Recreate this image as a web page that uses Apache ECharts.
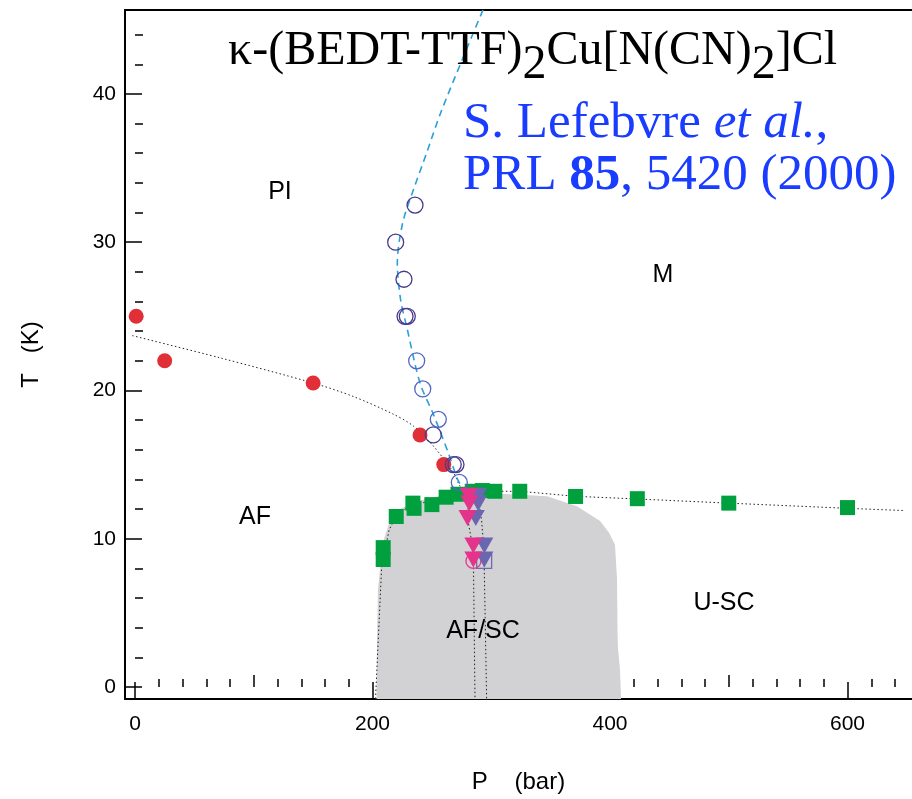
<!DOCTYPE html>
<html>
<head>
<meta charset="utf-8">
<script src="https://cdn.jsdelivr.net/npm/echarts@6/dist/echarts.min.js"></script>
<style>
  html, body { margin: 0; padding: 0; background: #ffffff; }
  #chart { width: 912px; height: 799px; }
</style>
</head>
<body>
<div id="chart"></div>
<script>
// ---- Phase diagram data: pressure P (bar), temperature T (K) ----

// Insulator -> antiferromagnet transition (filled red circles)
const afP = [1, 25, 150, 240, 260];
const afT = [25, 22, 20.5, 17, 15];

// Mott (insulator -> metal) transition, two data sets (open circles)
const mottAP = [235.8, 219.5, 226.5, 227.4, 229.3, 251.2, 268, 270.3];
const mottAT = [32.5, 30.0, 27.5, 25.0, 25.0, 17.0, 15.0, 15.0];
const mottBP = [237.2, 242.3, 255.4, 273.1];
const mottBT = [22.0, 20.1, 18.05, 13.8];

// Superconducting onset (filled green squares)
const scP = [209, 209, 220, 234, 235, 250, 262, 272, 284, 292.5, 303, 324, 371, 423, 500, 600];
const scT = [9.4, 8.6, 11.5, 12.4, 12.05, 12.3, 12.8, 13.0, 13.2, 13.25, 13.2, 13.2, 12.85, 12.7, 12.4, 12.1];

// Coexistence boundaries (down triangles)
const triAP = [281, 281.5, 280, 284.9, 284.9];
const triAT = [12.9, 12.4, 11.4, 9.55, 8.6];
const triBP = [289, 289, 287, 294.2, 294.2];
const triBT = [12.9, 12.4, 11.4, 9.55, 8.6];

// Open markers at the lowest coexistence points
const lowCircleP = [285];
const lowCircleT = [8.5];
const lowSquareP = [294];
const lowSquareT = [8.5];

// Guide lines
const afLineP = [-2.3, 71.6, 150, 183.6, 217.5, 234.4, 251.2, 268, 273.7, 280];
const afLineT = [23.7, 22.2, 20.5, 19.6, 18.4, 17.6, 16.25, 14.5, 13.55, 13.1];
const mottLineP = [293, 276.5, 256.8, 245.5, 234.3, 225.4, 220.9, 223.7, 228.8, 240, 251.2, 263.8, 272.3, 280];
const mottLineT = [45.66, 42.5, 38.6, 36.0, 33.5, 31.3, 28.6, 26.1, 24.3, 20.5, 18.4, 15.8, 13.9, 13.0];
const scLineP = [202.5, 203, 207.7, 214, 220, 227.4, 241.4, 262, 282, 324, 371, 423, 500, 600, 648];
const scLineT = [-0.81, 0, 8.1, 10.6, 11.5, 12.0, 12.4, 12.85, 13.2, 13.2, 12.86, 12.68, 12.4, 12.05, 11.9];
const coexALineP = [281, 280, 284, 285, 286.3];
const coexALineT = [12.6, 11.4, 9.6, 8.5, -0.81];
const coexBLineP = [289, 291.9, 293.5, 294, 296.1];
const coexBLineT = [12.8, 11.2, 9.6, 8.5, -0.81];

// Superconducting region outline (grey)
const scRegionP = [203.4, 203.8, 204.6, 207.2, 209.7, 214.7, 223.2, 235.8, 256.8, 290.5, 315.8, 347, 372.2, 385.7, 391.6, 399.2, 404.2, 405.9, 406.3, 406.7, 408.4, 409.3];
const scRegionT = [-0.81, 3.2, 6.6, 8.6, 10, 11.2, 12, 12.5, 12.9, 13.1, 13.0, 12.86, 12.19, 11.5, 11.2, 10.4, 9.6, 7.3, 3.9, 2.6, 1.2, -0.81];

// Axis ticks
const xMajorTicks = [0, 200, 400, 600];
const xMidTicks = [100, 300, 500];
const xMinorTicks = [20, 40, 60, 80, 120, 140, 160, 180, 220, 240, 260, 280, 320, 340, 360, 380, 420, 440, 460, 480, 520, 540, 560, 580, 620, 640];
const yMajorTicks = [0, 10, 20, 30, 40];
const yMinorTicks = [2, 4, 6, 8, 12, 14, 16, 18, 22, 24, 26, 28, 32, 34, 36, 38, 42, 44];

const P_MIN = -8.42, P_MAX = 654.3;
const T_MIN = -0.81, T_MAX = 45.66;

const zip = (a, b) => a.map((v, i) => [v, b[i]]);

const SANS = 'Liberation Sans, Arial, Helvetica, sans-serif';
const SERIF = 'Liberation Serif, Times New Roman, serif';

function xAxisFor(ticks, len, extra) {
  return Object.assign({
    type: 'value', gridIndex: 0, position: 'bottom', min: P_MIN, max: P_MAX,
    axisLine: { show: false },
    axisTick: { show: true, inside: true, length: len, customValues: ticks, lineStyle: { color: '#000', width: 1.5 } },
    axisLabel: { show: false },
    splitLine: { show: false }
  }, extra || {});
}

function yAxisFor(ticks, len, extra) {
  return Object.assign({
    type: 'value', gridIndex: 0, position: 'left', min: T_MIN, max: T_MAX,
    axisLine: { show: false },
    axisTick: { show: true, inside: true, length: len, customValues: ticks, lineStyle: { color: '#000', width: 1.5 } },
    axisLabel: { show: false },
    splitLine: { show: false }
  }, extra || {});
}

const dotted = { color: '#222', width: 1, type: [1.5, 2.5] };

function regionLabel(text, x, y) {
  return { type: 'text', x: x, y: y, z: 100,
    style: { text: text, fontFamily: SANS, fontSize: 25, fill: '#000', align: 'center', verticalAlign: 'middle' } };
}

const option = {
  animation: false,
  backgroundColor: '#ffffff',
  grid: { left: 125, top: 10, width: 787, height: 690 },
  xAxis: [
    xAxisFor(xMajorTicks, 17, {
      axisLine: { show: true, onZero: false, lineStyle: { color: '#000', width: 2 } },
      axisLabel: { show: true, customValues: xMajorTicks, color: '#000', fontSize: 21, fontFamily: SANS, margin: 15 },
      name: 'P    (bar)', nameLocation: 'middle', nameGap: 71,
      nameTextStyle: { color: '#000', fontSize: 24, fontFamily: SANS }
    }),
    xAxisFor(xMidTicks, 12),
    xAxisFor(xMinorTicks, 8),
    {
      type: 'value', gridIndex: 0, position: 'top', min: P_MIN, max: P_MAX,
      axisLine: { show: true, onZero: false, lineStyle: { color: '#000', width: 2 } },
      axisTick: { show: false }, axisLabel: { show: false }, splitLine: { show: false }
    }
  ],
  yAxis: [
    yAxisFor(yMajorTicks, 17, {
      axisLine: { show: true, onZero: false, lineStyle: { color: '#000', width: 2 } },
      axisLabel: { show: true, customValues: yMajorTicks, color: '#000', fontSize: 21, fontFamily: SANS, margin: 9 },
      name: 'T   (K)', nameLocation: 'middle', nameRotate: 90, nameGap: 82,
      nameTextStyle: { color: '#000', fontSize: 24, fontFamily: SANS }
    }),
    yAxisFor(yMinorTicks, 8)
  ],
  series: [
    {
      type: 'custom', name: 'SC region', coordinateSystem: 'cartesian2d', clip: true, silent: true, z: 1,
      data: [[0, 0]],
      renderItem: (params, api) => ({
        type: 'polygon',
        shape: { points: scRegionP.map((p, i) => api.coord([p, scRegionT[i]])) },
        style: { fill: '#d2d2d4' }
      })
    },
    { type: 'line', data: zip(afLineP, afLineT), symbol: 'none', smooth: 0.3, lineStyle: dotted, z: 2 },
    { type: 'line', data: zip(scLineP, scLineT), symbol: 'none', lineStyle: dotted, z: 2 },
    { type: 'line', data: zip(coexALineP, coexALineT), symbol: 'none', lineStyle: dotted, z: 2 },
    { type: 'line', data: zip(coexBLineP, coexBLineT), symbol: 'none', lineStyle: dotted, z: 2 },
    { type: 'line', data: zip(mottLineP, mottLineT), symbol: 'none', smooth: 0.3,
      lineStyle: { color: '#2a9fd8', width: 1.6, type: [7, 5] }, z: 3 },
    { type: 'scatter', data: zip(scP, scT), symbol: 'rect', symbolSize: 15,
      itemStyle: { color: '#00a03e', opacity: 1 }, z: 4 },
    { type: 'scatter', data: zip(afP, afT), symbol: 'circle', symbolSize: 15,
      itemStyle: { color: '#e12f37', opacity: 1 }, z: 4 },
    { type: 'scatter', data: zip(mottAP, mottAT), symbol: 'circle', symbolSize: 16,
      itemStyle: { color: 'rgba(0,0,0,0)', borderColor: '#4a3a8f', borderWidth: 1.3, opacity: 1 }, z: 5 },
    { type: 'scatter', data: zip(mottBP, mottBT), symbol: 'circle', symbolSize: 16,
      itemStyle: { color: 'rgba(0,0,0,0)', borderColor: '#5066c8', borderWidth: 1.3, opacity: 1 }, z: 5 },
    { type: 'scatter', data: zip(lowCircleP, lowCircleT), symbol: 'circle', symbolSize: 15,
      itemStyle: { color: 'rgba(0,0,0,0)', borderColor: '#e3378b', borderWidth: 1.3, opacity: 1 }, z: 5 },
    { type: 'scatter', data: zip(lowSquareP, lowSquareT), symbol: 'rect', symbolSize: 15,
      itemStyle: { color: 'rgba(0,0,0,0)', borderColor: '#7069b4', borderWidth: 1.3, opacity: 1 }, z: 5 },
    { type: 'scatter', data: zip(triBP, triBT), symbol: 'triangle', symbolRotate: 180, symbolSize: [18, 16],
      itemStyle: { color: '#6a66b0', opacity: 1 }, z: 6 },
    { type: 'scatter', data: zip(triAP, triAT), symbol: 'triangle', symbolRotate: 180, symbolSize: [18, 16],
      itemStyle: { color: '#e4338a', opacity: 1 }, z: 7 }
  ],
  graphic: [
    {
      type: 'text', left: 228, top: 27, z: 100,
      style: {
        text: '{t|κ-(BEDT-TTF)}{s|2}{t|Cu[N(CN)}{s|2}{t|]Cl}',
        rich: {
          t: { fontFamily: SERIF, fontSize: 48, fill: '#000', lineHeight: 50, verticalAlign: 'top' },
          s: { fontFamily: SERIF, fontSize: 48, fill: '#000', lineHeight: 50, verticalAlign: 'top', padding: [14, 0, 0, 0] }
        }
      }
    },
    {
      type: 'text', left: 463, top: 98, z: 100,
      style: {
        text: '{n|S. Lefebvre }{i|et al.}{n|,}\n{n|PRL }{b|85}{n|, 5420 (2000)}',
        rich: {
          n: { fontFamily: SERIF, fontSize: 51, fill: '#1a3cff', lineHeight: 52 },
          i: { fontFamily: SERIF, fontSize: 51, fill: '#1a3cff', lineHeight: 52, fontStyle: 'italic' },
          b: { fontFamily: SERIF, fontSize: 51, fill: '#1a3cff', lineHeight: 52, fontWeight: 'bold' }
        }
      }
    },
    regionLabel('PI', 280, 192),
    regionLabel('M', 663, 275),
    regionLabel('AF', 255, 517),
    regionLabel('AF/SC', 483, 631),
    regionLabel('U-SC', 724, 603)
  ]
};

const chart = echarts.init(document.getElementById('chart'), null, { renderer: 'canvas' });
chart.setOption(option);
</script>
</body>
</html>
